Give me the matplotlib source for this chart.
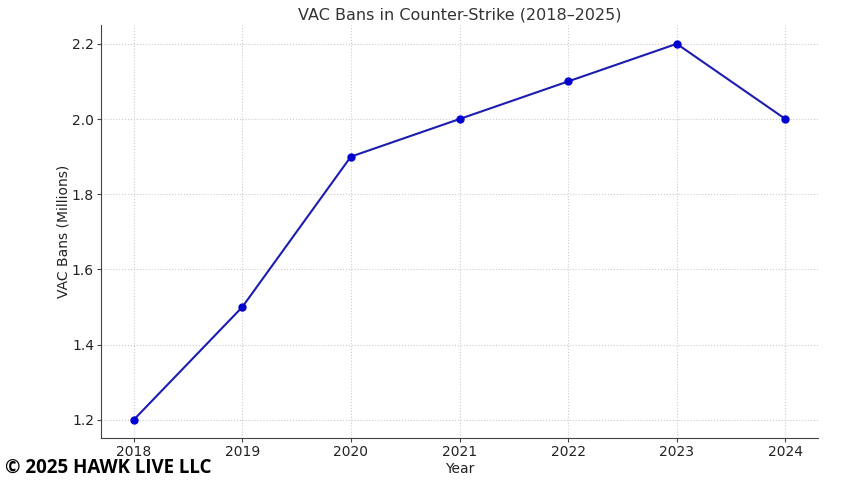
import matplotlib
matplotlib.use("Agg")
import matplotlib.pyplot as plt

years = [2018, 2019, 2020, 2021, 2022, 2023, 2024]
bans = [1.2, 1.5, 1.9, 2.0, 2.1, 2.2, 2.0]

fig = plt.figure(figsize=(8.54, 4.8), dpi=100)
ax = fig.add_axes([101 / 854, 1 - 438 / 480, 717 / 854, 413 / 480])

ax.plot(years, bans, color="#1c1cb0", linewidth=1.5, marker="o",
        markersize=5, markerfacecolor="#0000d0", markeredgecolor="#0000d0")

ax.set_xlim(2017.7, 2024.3)
ax.set_ylim(1.152, 2.25)
ax.set_xticks(years)
ax.set_yticks([1.2, 1.4, 1.6, 1.8, 2.0, 2.2])
ax.set_yticklabels(["1.2", "1.4", "1.6", "1.8", "2.0", "2.2"])

ax.grid(True, linestyle=":", color="#cccccc", linewidth=0.8)
ax.set_axisbelow(True)
for s in ["top", "right"]:
    ax.spines[s].set_visible(False)
for s in ["left", "bottom"]:
    ax.spines[s].set_color("#444444")
ax.tick_params(colors="#444444", labelsize=10, labelcolor="#222222",
               length=3, pad=2)

ax.set_title("VAC Bans in Counter-Strike (2018\u20132025)", fontsize=11.5,
             color="#333333", pad=4)
ax.set_xlabel("Year", fontsize=10, color="#222222", labelpad=2)
ax.set_ylabel("VAC Bans (Millions)", fontsize=10, color="#222222", labelpad=1)

fig.text(5 / 854, 1 - 468 / 480, "\u00a9 2025 HAWK LIVE LLC", fontsize=13.5,
         fontweight="bold", family=["Open Sans", "DejaVu Sans"], color="black",
         va="center", ha="left")

fig.savefig("out.png", dpi=100)
